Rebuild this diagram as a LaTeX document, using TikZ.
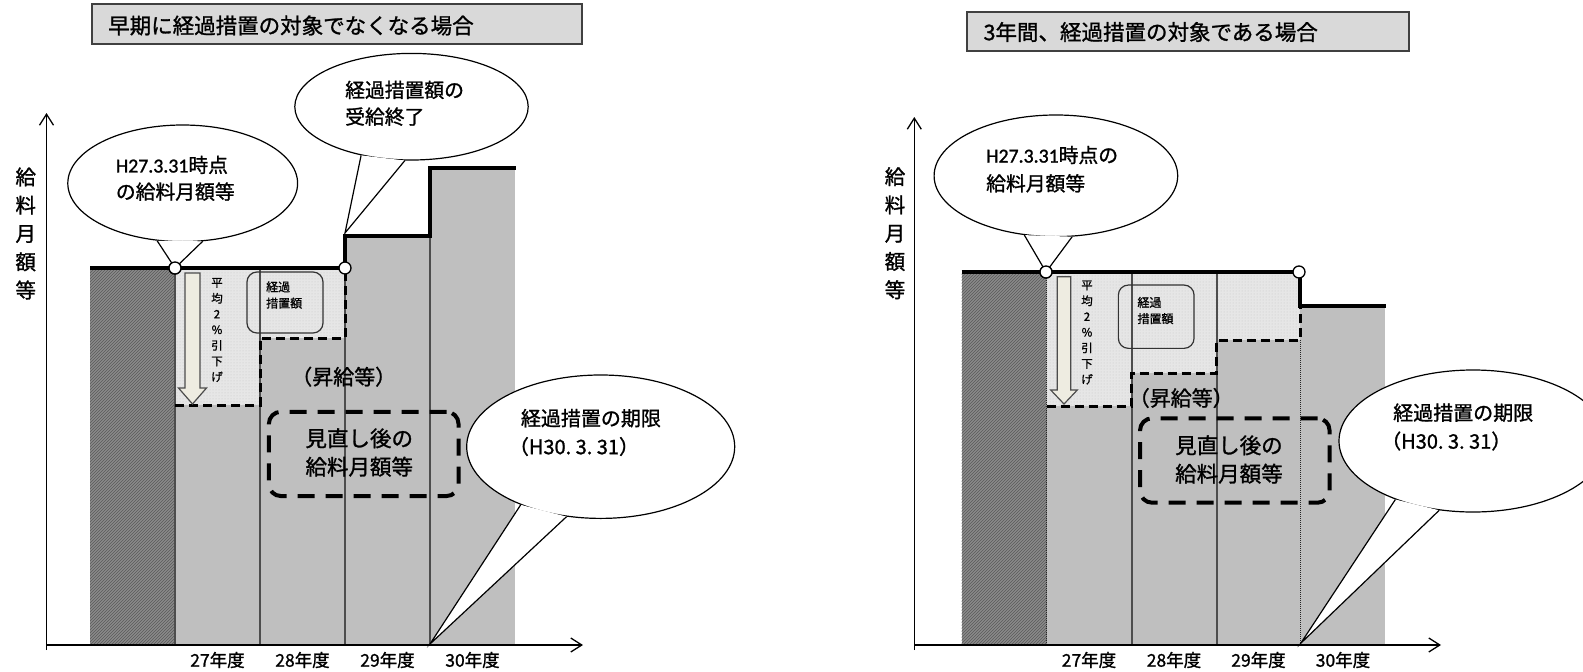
\documentclass[tikz,border=0pt]{standalone}
\usepackage{fontspec}
\setmainfont{Noto Sans CJK JP}[FakeBold=1.2]
\newfontfamily\latfont{Carlito}[FakeBold=1.2]
\usetikzlibrary{arrows.meta,patterns,shapes.geometric}
\definecolor{colgray}{HTML}{BFBFBF}
\definecolor{lightfill}{HTML}{E6E6E6}
\definecolor{lightdot}{HTML}{C4C4C4}
\definecolor{darkfill}{HTML}{8A8A8A}
\definecolor{darkhatch}{HTML}{5A5A5A}
\definecolor{titlefill}{HTML}{D9D9D9}
\definecolor{arrowfill}{HTML}{EEECE1}
\definecolor{sepline}{HTML}{4D4D4D}
\tikzset{
  titlebox/.style={fill=titlefill, draw=black!75, line width=1.8pt},
  titletext/.style={anchor=west, inner sep=0pt, font=\fontsize{21.5}{24}\selectfont},
  sepsolid/.style={draw=sepline, line width=2pt},
  sepdotted/.style={draw=black!85, line width=1pt, dash pattern=on 1pt off 1pt},
  stepdash/.style={draw=black, line width=3pt, dash pattern=on 9pt off 5pt},
  topline/.style={draw=black, line width=4pt},
  axisline/.style={draw=black, line width=1.3pt},
  axisarrow/.style={axisline, -{Straight Barb[length=11pt,width=14pt,line width=1.3pt]}},
  downarrow/.style={fill=arrowfill, draw=black!70, line width=1.2pt, line join=miter},
  vtext/.style={align=center, inner sep=0pt, font=\fontsize{11.5}{15.7}\selectfont},
  smallbox/.style={draw=black!80, line width=1.2pt, rounded corners=10pt, inner sep=0pt},
  smalltext/.style={anchor=west, align=left, inner sep=0pt, font=\fontsize{12}{16.2}\selectfont},
  risetext/.style={anchor=west, inner sep=0pt, font=\fontsize{21}{22}\selectfont},
  bigdash/.style={draw=black, line width=4pt, rounded corners=12pt, dash pattern=on 17pt off 11pt, inner sep=0pt},
  bigtext/.style={anchor=west, align=left, inner sep=0pt, font=\fontsize{21.5}{28.4}\selectfont},
  bubble/.style={ellipse, draw=black, fill=white, line width=1.2pt, inner sep=0pt},
  bubbleline/.style={draw=black, line width=1.2pt, line join=miter},
  bubbletext/.style={anchor=west, align=left, inner sep=0pt, font=\fontsize{19.8}{26.7}\selectfont},
  ylab/.style={align=center, inner sep=0pt, font=\fontsize{20.5}{28.3}\selectfont},
  yearlab/.style={inner sep=0pt, font=\fontsize{17.5}{19}\selectfont},
  ring/.style={circle, draw=black, fill=white, line width=1.3pt, minimum size=12pt, inner sep=0pt}
}
\begin{document}
\begin{tikzpicture}[x=1pt,y=-1pt]
\useasboundingbox (0,0) rectangle (1583,672);
\clip (0,0) rectangle (1583,672);

%================= LEFT PANEL =================
\draw[titlebox] (91.6,4.3) rectangle (581.8,44);
\node[titletext] (ltitle) at (108,25.5) {早期に経過措置の対象でなくなる場合};

% columns
\fill[darkfill] (90,268) rectangle (175,644);
\fill[pattern=north east lines, pattern color=darkhatch] (90,268) rectangle (175,644);
\fill[lightfill] (175,268) -- (345,268) -- (345,338) -- (260,338) -- (260,405) -- (175,405) -- cycle;
\fill[pattern=dots, pattern color=lightdot] (175,268) -- (345,268) -- (345,338) -- (260,338) -- (260,405) -- (175,405) -- cycle;
\fill[colgray] (175,405) rectangle (260,644);
\fill[colgray] (260,338) rectangle (345,644);
\fill[colgray] (345,236) rectangle (430,644);
\fill[colgray] (430,168) rectangle (515,644);

% separators
\draw[sepsolid] (175,268) -- (175,644);
\draw[sepsolid] (260,268) -- (260,644);
\draw[sepsolid] (345,268) -- (345,644);
\draw[sepsolid] (430,236) -- (430,644);

% dashed level
\draw[stepdash] (175,405) -- (260,405) -- (260,338) -- (345,338) -- (345,268);
% thick top
\draw[topline] (90,268) -- (345,268) -- (345,236) -- (430,236) -- (430,168) -- (516,168);

% axes
\draw[axisarrow] (46.5,650) -- (46.5,113);
\draw[axisarrow] (46.5,645) -- (583,645);
\node[ylab] (lylab) at (25.7,233.5) {給\\料\\月\\額\\等};

% year labels
\node[yearlab] (ly27) at (217.5,660) {27年度};
\node[yearlab] (ly28) at (302.5,660) {28年度};
\node[yearlab] (ly29) at (387.5,660) {29年度};
\node[yearlab] (ly30) at (472.5,660) {30年度};

% down arrow
\draw[downarrow] (185,273) -- (200,273) -- (200,388) -- (206.5,388) -- (192.5,404) -- (178.5,388) -- (185,388) -- cycle;
\node[vtext] (lvt) at (217,330) {平\\均\\2\\\%\\引\\下\\げ};

% small rounded box
\node[smallbox, minimum width=76pt, minimum height=61pt] (lsb) at (285,302.5) {};
\node[smalltext] (lsbt) at (266,295) {経過\\措置額};

\node[risetext] (lrise) at (291,376.7) {（昇給等）};

% dashed box
\node[bigdash, minimum width=189.6pt, minimum height=84.3pt] (ldb) at (363.7,453.9) {};
\node[bigtext] (ldbt) at (305.3,452.5) {見直し後の\\給料月額等};

% callout 1
\node[bubble, minimum width=229.8pt, minimum height=116.6pt] (lc1) at (182.7,183.3) {};
\node[ring] (lp1) at (175,268) {};
\fill[white] (lc1.246) -- (lp1.center) -- (lc1.289) -- cycle;
\draw[bubbleline] (lc1.246) -- (lp1.center) -- (lc1.289);
\node[bubbletext] (lc1t) at (115.7,178.3) {{\latfont H27.3.31}時点\\の給料月額等};

% callout 2
\node[bubble, minimum width=233.4pt, minimum height=106.6pt] (lc2) at (411.5,106.7) {};
\coordinate (lt2) at (345,233);
\fill[white] (lc2.224) -- (lt2) -- (lc2.263) -- cycle;
\draw[bubbleline] (lc2.224) -- (lt2) -- (lc2.263);
\node[bubbletext] (lc2t) at (345,103.3) {経過措置額の\\受給終了};

% callout 3
\node[bubble, minimum width=268pt, minimum height=143.4pt] (lc3) at (600.7,446.7) {};
\coordinate (lt3) at (430,644);
\fill[white] (lc3.216) -- (lt3) -- (lc3.244) -- cycle;
\draw[bubbleline] (lc3.216) -- (lt3) -- (lc3.244);
\node[bubbletext, font=\fontsize{20}{28.4}\selectfont] (lc3t) at (520.7,432.5) {経過措置の期限\\\hspace*{-12pt}（H30.\ 3.\ 31）};

% rings
\node[ring] (lp1b) at (175,268) {};
\node[ring] (lp2) at (345,268) {};

%================= RIGHT PANEL =================
\draw[titlebox] (967.3,11.7) rectangle (1409,50.7);
\node[titletext] (rtitle) at (983.4,32) {3年間、経過措置の対象である場合};

\fill[darkfill] (961.7,272) rectangle (1046.7,644);
\fill[pattern=north east lines, pattern color=darkhatch] (961.7,272) rectangle (1046.7,644);
\fill[lightfill] (1046.7,272) -- (1300,272) -- (1300,340) -- (1216.7,340) -- (1216.7,373) -- (1131.7,373) -- (1131.7,406) -- (1046.7,406) -- cycle;
\fill[pattern=dots, pattern color=lightdot] (1046.7,272) -- (1300,272) -- (1300,340) -- (1216.7,340) -- (1216.7,373) -- (1131.7,373) -- (1131.7,406) -- (1046.7,406) -- cycle;
\fill[colgray] (1046.7,406) rectangle (1131.7,644);
\fill[colgray] (1131.7,373) rectangle (1216.7,644);
\fill[colgray] (1216.7,340) rectangle (1300,644);
\fill[colgray] (1300,306) rectangle (1385,644);

\draw[sepdotted] (1046.7,272) -- (1046.7,644);
\draw[sepsolid] (1131.7,272) -- (1131.7,644);
\draw[sepsolid] (1216.7,272) -- (1216.7,644);
\draw[sepdotted] (1300,340) -- (1300,644);

\draw[stepdash] (1046.7,406) -- (1131.7,406) -- (1131.7,373) -- (1216.7,373) -- (1216.7,340) -- (1300,340) -- (1300,306);
\draw[topline] (961.7,272) -- (1300,272) -- (1300,306) -- (1386,306);

\draw[axisarrow] (914.3,650) -- (914.3,117);
\draw[axisarrow] (914.3,645) -- (1441,645);
\node[ylab] (rylab) at (895,233.2) {給\\料\\月\\額\\等};

\node[yearlab] (ry27) at (1089,660) {27年度};
\node[yearlab] (ry28) at (1174,660) {28年度};
\node[yearlab] (ry29) at (1258.5,660) {29年度};
\node[yearlab] (ry30) at (1343,660) {30年度};

\draw[downarrow] (1057.3,276.7) -- (1070.7,276.7) -- (1070.7,390) -- (1077.3,390) -- (1064,404) -- (1050.7,390) -- (1057.3,390) -- cycle;
\node[vtext] (rvt) at (1087,332.5) {平\\均\\2\\\%\\引\\下\\げ};

\node[smallbox, minimum width=75.7pt, minimum height=63.3pt] (rsb) at (1156.2,316.7) {};
\node[smalltext] (rsbt) at (1137.3,310.5) {経過\\措置額};

\node[risetext] (rrise) at (1128.5,398) {（昇給等）};

\node[bigdash, minimum width=189.5pt, minimum height=84.4pt] (rdb) at (1234.8,460.5) {};
\node[bigtext] (rdbt) at (1175,459.5) {見直し後の\\給料月額等};

\node[bubble, minimum width=243.6pt, minimum height=121.6pt] (rc1) at (1055.9,175.8) {};
\node[ring] (rp1) at (1046,272) {};
\fill[white] (rc1.242) -- (rp1.center) -- (rc1.285) -- cycle;
\draw[bubbleline] (rc1.242) -- (rp1.center) -- (rc1.285);
\node[bubbletext, font=\fontsize{19.8}{28.3}\selectfont] (rc1t) at (986,169.2) {{\latfont H27.3.31}時点の\\給料月額等};

\node[bubble, minimum width=268pt, minimum height=142pt] (rc3) at (1473,441) {};
\coordinate (rt3) at (1300.7,643.3);
\fill[white] (rc3.217) -- (rt3) -- (rc3.244) -- cycle;
\draw[bubbleline] (rc3.217) -- (rt3) -- (rc3.244);
\node[bubbletext, font=\fontsize{20}{28.4}\selectfont] (rc3t) at (1393,427) {経過措置の期限\\\hspace*{-12pt}（H30.\ 3.\ 31）};

\node[ring] (rp1b) at (1046,272) {};
\node[ring] (rp2) at (1299,272) {};
\end{tikzpicture}
\end{document}
